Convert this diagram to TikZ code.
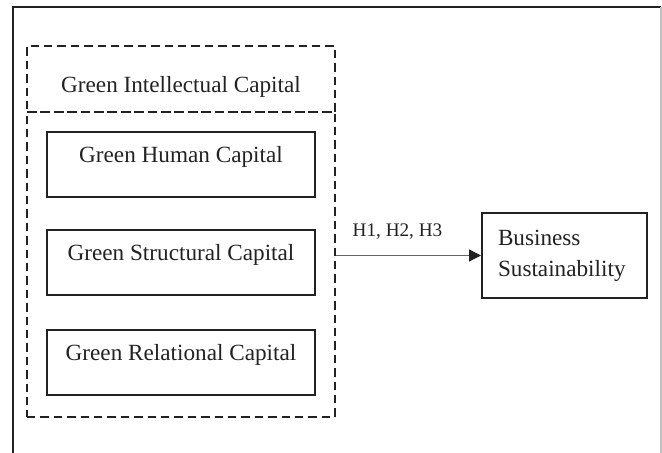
\documentclass[tikz,border=0pt]{standalone}
\usepackage{fontspec}
\setmainfont{Liberation Serif}
\usetikzlibrary{arrows.meta}
\definecolor{ink}{HTML}{222222}
\tikzset{
  capbox/.style={draw=ink, line width=1pt, rectangle, inner sep=0pt,
    minimum width=134pt, text height=15.25pt, text depth=17.25pt},
  groupbox/.style={draw=ink, line width=1.1pt, rectangle, inner sep=0pt,
    dash pattern=on 4.2pt off 2.5pt, minimum width=154pt},
  outbox/.style={draw=ink, line width=1pt, rectangle, inner xsep=8pt,
    minimum height=42.5pt, text width=66.5pt, align=left},
  link/.style={draw=gray!80!black, line width=0.6pt,
    -{Triangle[length=6pt,width=6pt,fill=ink,color=ink]}},
  hyplabel/.style={font=\fontsize{9.6}{12}\selectfont},
}
\begin{document}
\begin{tikzpicture}[x=0.5pt, y=-0.5pt, font=\fontsize{11.6}{15.5}\selectfont, text=ink]
\useasboundingbox (0,0) rectangle (662,453);
% page frame (open at the bottom)
\draw[ink, line width=1pt] (13,453) -- (13,7) -- (661,7);
\draw[gray!50, line width=1pt] (661,7) -- (661,453);

% Green intellectual capital group
\node[groupbox, text height=23.25pt, text depth=9.75pt] (gtitle) at (181,79) {Green Intellectual Capital};
\node[groupbox, minimum height=152.5pt] (gbody) at (181,264.5) {};

\node[capbox] (human) at (181,164.5) {Green Human Capital};
\node[capbox] (struct) at (181,263) {Green Structural Capital};
\node[capbox] (relat) at (181,362.5) {Green Relational Capital};

% outcome
\node[outbox] (bs) at (564.5,255.5) {Business\\Sustainability};

% hypotheses link
\draw[link] (gbody.east |- bs.west) -- (bs.west);
\node[hyplabel] (hyp) at (397.5,232) {H1, H2, H3};
\end{tikzpicture}
\end{document}
